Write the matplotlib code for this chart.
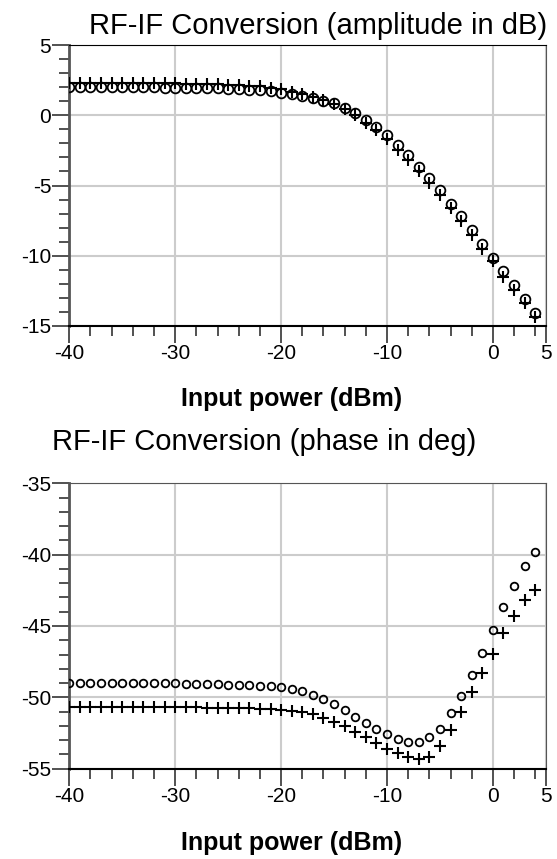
import numpy as np
import matplotlib
matplotlib.use("Agg")
import matplotlib.pyplot as plt
from matplotlib.ticker import MultipleLocator, FixedLocator

plt.rcParams['font.family'] = ['Liberation Sans', 'DejaVu Sans']
plt.rcParams['axes.unicode_minus'] = False

# input power sweep (dBm)
power = list(range(-40, 5))
xticks = [-40, -30, -20, -10, 0, 5]

# RF-IF conversion amplitude (dB)
amp_o = [2.02, 2.01, 2.01, 2.00, 2.00, 2.00, 2.00, 1.99, 1.99, 1.98,
         1.98, 1.97, 1.96, 1.95, 1.93, 1.90, 1.87, 1.83, 1.78, 1.72,
         1.63, 1.55, 1.40, 1.25, 1.05, 0.85, 0.55, 0.15, -0.30, -0.80,
         -1.40, -2.10, -2.85, -3.70, -4.50, -5.35, -6.35, -7.20, -8.20, -9.15,
         -10.15, -11.10, -12.10, -13.10, -14.10]
amp_p = [2.32, 2.32, 2.31, 2.31, 2.30, 2.30, 2.30, 2.30, 2.29, 2.29,
         2.28, 2.27, 2.26, 2.25, 2.23, 2.20, 2.17, 2.12, 2.06, 1.97,
         1.85, 1.70, 1.50, 1.30, 1.10, 0.80, 0.45, 0.00, -0.55, -1.05,
         -1.70, -2.45, -3.20, -4.00, -4.80, -5.70, -6.60, -7.50, -8.50, -9.50,
         -10.40, -11.50, -12.45, -13.40, -14.40]

# RF-IF conversion phase (deg)
ph_o = [-49.0, -49.0, -49.0, -49.0, -49.0, -49.0, -49.0, -49.0, -49.0, -49.0,
        -49.02, -49.03, -49.05, -49.07, -49.09, -49.11, -49.13, -49.15, -49.18, -49.22,
        -49.3, -49.4, -49.53, -49.8, -50.1, -50.5, -50.9, -51.4, -51.8, -52.2,
        -52.6, -52.9, -53.1, -53.1, -52.8, -52.2, -51.1, -49.9, -48.4, -46.9,
        -45.3, -43.7, -42.2, -40.8, -39.8]
ph_p = [-50.7, -50.7, -50.7, -50.7, -50.7, -50.7, -50.7, -50.7, -50.7, -50.7,
        -50.7, -50.7, -50.7, -50.72, -50.73, -50.74, -50.76, -50.78, -50.8, -50.85,
        -50.9, -50.97, -51.06, -51.2, -51.45, -51.7, -52.0, -52.4, -52.8, -53.2,
        -53.6, -53.9, -54.2, -54.3, -54.2, -53.4, -52.3, -51.06, -49.65, -48.3,
        -46.95, -45.5, -44.3, -43.2, -42.47]

fig = plt.figure(figsize=(5.57, 8.59), dpi=100)
ax1 = fig.add_axes([0.1244, 0.6208, 0.8556, 0.3265])
ax2 = fig.add_axes([0.1244, 0.1051, 0.8556, 0.3323])


def style(ax, ylim, ymaj, label_y):
    ax.set_xlim(-40, 5)
    ax.set_ylim(*ylim)
    ax.xaxis.set_major_locator(FixedLocator(xticks))
    ax.xaxis.set_minor_locator(MultipleLocator(2))
    ax.yaxis.set_major_locator(MultipleLocator(ymaj))
    ax.yaxis.set_minor_locator(MultipleLocator(1))
    ax.grid(True, which='major', color='#cccccc', linewidth=1.5, zorder=0)
    ax.tick_params(which='major', direction='out', length=12, width=1.2,
                   labelsize=15, pad=1, color='#333333')
    ax.tick_params(which='minor', direction='out', length=7, width=1.2,
                   color='#333333')
    for side in ['left', 'right', 'top']:
        ax.spines[side].set_color('#555555')
    ax.spines['left'].set_linewidth(2)
    ax.spines['bottom'].set_color('black')
    ax.spines['bottom'].set_linewidth(1.5)
    ax.set_xlabel('Input power (dBm)', fontsize=18, fontweight='bold')
    ax.xaxis.set_label_coords(0.467, label_y)


ax1.plot(power, amp_p, linestyle='none', marker='+', color='black',
         markersize=9, markeredgewidth=1.5, zorder=3)
ax1.plot(power, amp_o, linestyle='none', marker='o', markerfacecolor='none',
         markeredgecolor='black', markersize=7, markeredgewidth=1.3, zorder=3)
style(ax1, (-15, 5), 5, -0.22)
ax1.spines['top'].set_color('black')
ax1.set_title('RF-IF Conversion (amplitude in dB)', fontsize=21, pad=8, x=0.522)

ax2.plot(power, ph_p, linestyle='none', marker='+', color='black',
         markersize=8.5, markeredgewidth=1.5, zorder=3)
ax2.plot(power, ph_o, linestyle='none', marker='o', markerfacecolor='none',
         markeredgecolor='black', markersize=5.5, markeredgewidth=1.3, zorder=3)
style(ax2, (-55, -35), 5, -0.217)
ax2.set_title('RF-IF Conversion (phase in deg)', fontsize=21, pad=24, x=0.408)

fig.savefig('out.png', dpi=100)
